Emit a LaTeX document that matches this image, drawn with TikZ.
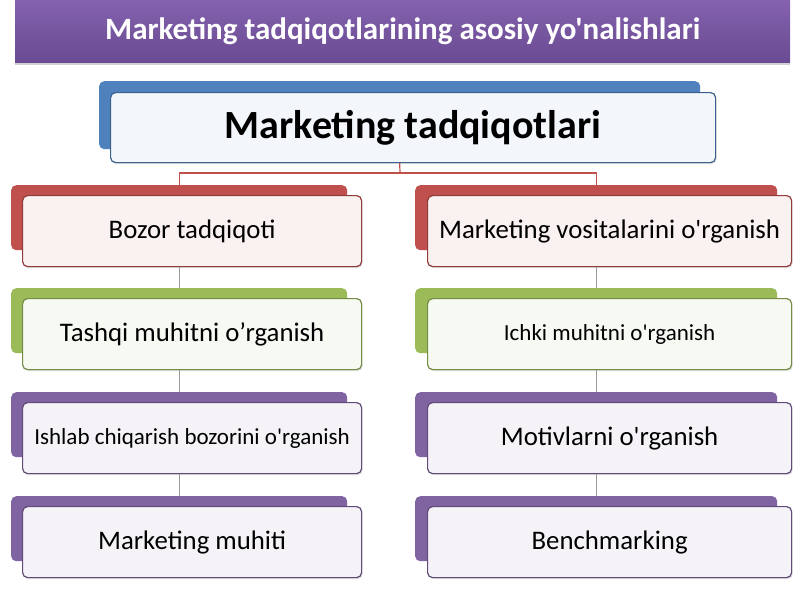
\documentclass[tikz,border=0pt]{standalone}
\usepackage{fontspec}
\setmainfont{Carlito}[Ligatures=TeXOff]
\usetikzlibrary{shadows}
\definecolor{cred}{HTML}{C0504D}
\definecolor{cgreen}{HTML}{9BBB59}
\definecolor{cpurple}{HTML}{8064A2}
\definecolor{cblue}{HTML}{4F81BD}
\definecolor{ttop}{HTML}{8462AE}
\definecolor{tbot}{HTML}{6A4A92}
\tikzset{
  backbox/.style={fill=#1, draw=none, rounded corners=5pt, anchor=north west, inner sep=0pt},
  frontbox/.style={fill=#1!8!white, draw=#1!75!black, line width=1.2pt, rounded corners=5pt,
     anchor=north west, inner sep=0pt, align=center, text=black,
     drop shadow={shadow xshift=1pt, shadow yshift=-1.5pt, opacity=0.25}},
  bigtxt/.style={font=\fontsize{26.8}{30}\selectfont},
  smalltxt/.style={font=\fontsize{23}{27}\selectfont},
  link/.style={line width=1.2pt, draw=#1},
  leftback/.style={minimum width=336pt, minimum height=65pt},
  leftfront/.style={minimum width=339pt, minimum height=71pt},
  rightback/.style={minimum width=362pt, minimum height=65pt},
  rightfront/.style={minimum width=364pt, minimum height=71pt},
}
\begin{document}
\begin{tikzpicture}[x=1pt, y=-1pt]
\useasboundingbox[fill=white] (0,0) rectangle (800,600);
% title
\node[anchor=north west, minimum width=775pt, minimum height=62pt, inner sep=0pt,
  top color=ttop, bottom color=tbot, draw=none,
  drop shadow={shadow xshift=0pt, shadow yshift=-3pt, opacity=0.35},
  text=white, font=\fontsize{31}{35}\selectfont\bfseries] (title) at (15,0)
  {\raisebox{-2pt}{Marketing tadqiqotlarining asosiy yo'nalishlari}};
% top node
\node[backbox=cblue, minimum width=601pt, minimum height=68pt] (topback) at (99,81) {};
\node[frontbox=cblue, fill=cblue!7!white, minimum width=605pt, minimum height=70pt,
  font=\fontsize{40}{44}\selectfont\bfseries] (topfront) at (110,92) {Marketing tadqiqotlari};
% left column
\node[backbox=cred, leftback] (l1b) at (11,185) {};
\node[frontbox=cred, leftfront, bigtxt] (l1f) at (22,195) {Bozor tadqiqoti};
\node[backbox=cgreen, leftback] (l2b) at (11,288) {};
\node[frontbox=cgreen, leftfront, bigtxt] (l2f) at (22,298) {Tashqi muhitni o’rganish};
\node[backbox=cpurple, leftback] (l3b) at (11,392) {};
\node[frontbox=cpurple, leftfront, smalltxt] (l3f) at (22,402) {Ishlab chiqarish bozorini o'rganish};
\node[backbox=cpurple, leftback] (l4b) at (11,496) {};
\node[frontbox=cpurple, leftfront, bigtxt] (l4f) at (22,506) {Marketing muhiti};
% right column
\node[backbox=cred, rightback] (r1b) at (415,185) {};
\node[frontbox=cred, rightfront, bigtxt] (r1f) at (427,195) {Marketing vositalarini o'rganish};
\node[backbox=cgreen, rightback] (r2b) at (415,288) {};
\node[frontbox=cgreen, rightfront, smalltxt] (r2f) at (427,298) {Ichki muhitni o'rganish};
\node[backbox=cpurple, rightback] (r3b) at (415,392) {};
\node[frontbox=cpurple, rightfront, bigtxt] (r3f) at (427,402) {Motivlarni o'rganish};
\node[backbox=cpurple, rightback] (r4b) at (415,496) {};
\node[frontbox=cpurple, rightfront, bigtxt] (r4f) at (427,506) {Benchmarking};
% connectors
\coordinate (split) at (400,173);
\draw[link=cred] (topback.center |- topfront.south) -- (split);
\draw[link=cred] (l1b.north) |- (split) -| (r1b.north);
\draw[link=gray!80] (l1b.center |- l1f.south) -- (l2b.north);
\draw[link=gray!80] (l2b.center |- l2f.south) -- (l3b.north);
\draw[link=gray!80] (l3b.center |- l3f.south) -- (l4b.north);
\draw[link=gray!80] (r1b.center |- r1f.south) -- (r2b.north);
\draw[link=gray!80] (r2b.center |- r2f.south) -- (r3b.north);
\draw[link=gray!80] (r3b.center |- r3f.south) -- (r4b.north);
\end{tikzpicture}
\end{document}
